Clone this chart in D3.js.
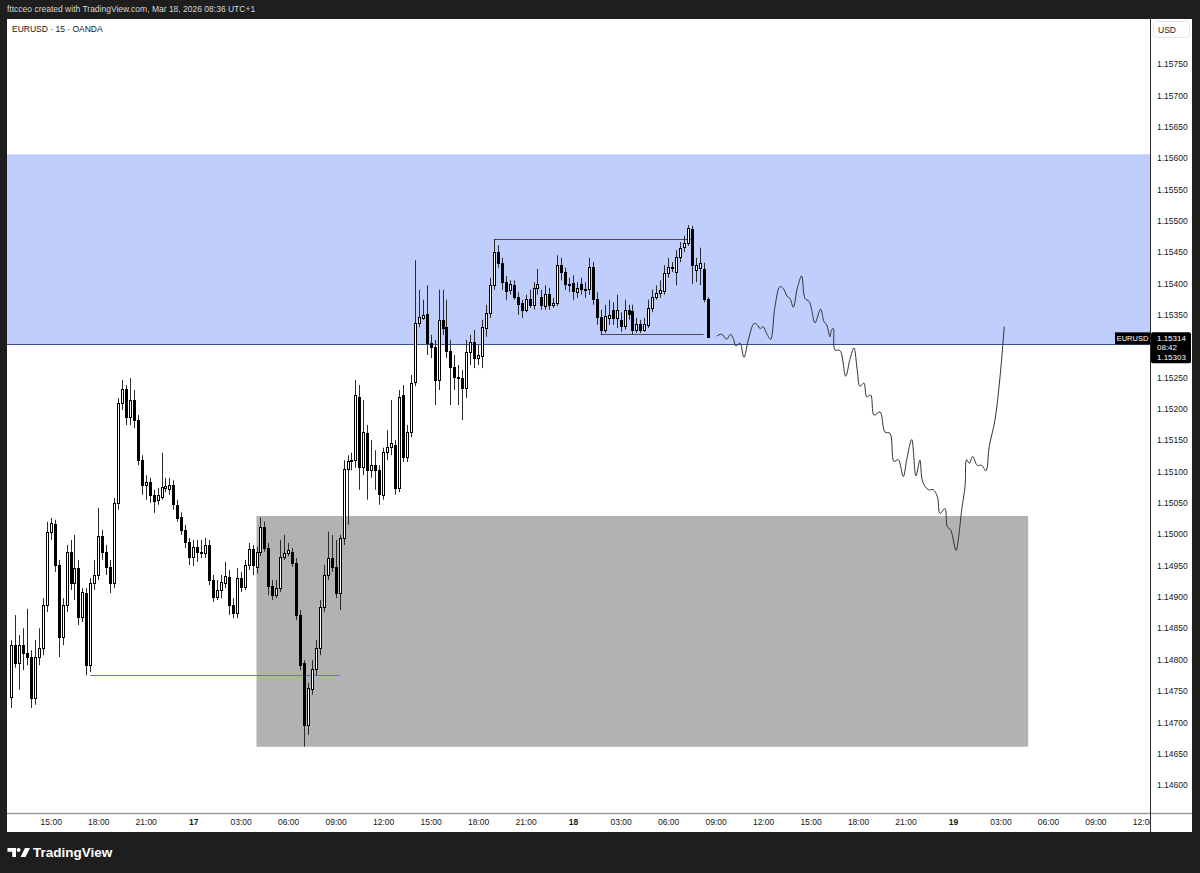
<!DOCTYPE html>
<html>
<head>
<meta charset="utf-8">
<script src="https://cdn.jsdelivr.net/npm/d3@7"></script>
<style>
  body { margin: 0; background: #1e1e1e; }
  svg { display: block; font-family: "Liberation Sans", Arial, sans-serif; }
</style>
</head>
<body>
<svg id="chart" width="1200" height="873"></svg>
<script>
// EURUSD 15m bars, first bar Mar 16 12:30 (hours counted from Mar 16 00:00)
var firstBar = 12.5, barHours = 0.25;

var openP = [
  1.14740,1.14823,1.14795,1.14823,1.14811,1.14804,1.14739,1.14804,1.14819,1.14887,
  1.15004,1.15016,1.14951,1.14836,1.14887,1.14972,1.14922,1.14946,1.14868,1.14906,
  1.14791,1.14922,1.14935,1.14997,1.14972,1.14948,1.14922,1.15050,1.15209,1.15232,
  1.15187,1.15214,1.15182,1.15118,1.15078,1.15083,1.15063,1.15055,1.15059,1.15074,
  1.15071,1.15078,1.15047,1.15027,1.15007,1.14988,1.14964,1.14980,1.14972,1.14970,
  1.14983,1.14927,1.14900,1.14911,1.14922,1.14932,1.14887,1.14874,1.14930,1.14916,
  1.14951,1.14976,1.14948,1.14972,1.15012,1.14978,1.14917,1.14903,1.14914,1.14964,
  1.14970,1.14972,1.14954,1.14871,1.14795,1.14696,1.14753,1.14785,1.14819,1.14884,
  1.14935,1.14962,1.14948,1.14906,1.14994,1.15104,1.15117,1.15118,1.15219,1.15107,
  1.15161,1.15102,1.15110,1.15102,1.15063,1.15131,1.15139,1.15142,1.15074,1.15222,
  1.15123,1.15163,1.15243,1.15337,1.15346,1.15351,1.15305,1.15299,1.15246,1.15342,
  1.15330,1.15292,1.15267,1.15251,1.15249,1.15233,1.15291,1.15307,1.15281,1.15283,
  1.15329,1.15353,1.15397,1.15450,1.15433,1.15402,1.15390,1.15397,1.15378,1.15369,
  1.15358,1.15375,1.15366,1.15393,1.15378,1.15364,1.15383,1.15366,1.15369,1.15429,
  1.15418,1.15399,1.15401,1.15386,1.15399,1.15391,1.15391,1.15426,1.15375,1.15346,
  1.15326,1.15346,1.15358,1.15345,1.15342,1.15332,1.15358,1.15356,1.15326,1.15335,
  1.15326,1.15334,1.15361,1.15378,1.15385,1.15388,1.15417,1.15425,1.15418,1.15442,
  1.15457,1.15464,1.15487,1.15421,1.15425,1.15423,1.15375];

var highP = [
  1.14831,1.14871,1.14839,1.14850,1.14881,1.14815,1.14831,1.14850,1.14898,1.15020,
  1.15026,1.15023,1.14959,1.14898,1.14983,1.14991,1.14999,1.14959,1.14914,1.14914,
  1.14930,1.14959,1.15042,1.15007,1.14983,1.14959,1.15058,1.15217,1.15246,1.15238,
  1.15249,1.15230,1.15190,1.15126,1.15094,1.15090,1.15071,1.15074,1.15130,1.15090,
  1.15090,1.15086,1.15055,1.15035,1.15015,1.14994,1.14991,1.14991,1.14991,1.14994,
  1.14991,1.14935,1.14927,1.14935,1.14956,1.14943,1.14898,1.14946,1.14940,1.14959,
  1.14986,1.14983,1.14980,1.15027,1.15020,1.14986,1.14927,1.14927,1.14991,1.14999,
  1.14986,1.14978,1.14962,1.14879,1.14799,1.14763,1.14799,1.14831,1.14895,1.14951,
  1.15004,1.14999,1.14991,1.14999,1.15118,1.15126,1.15130,1.15246,1.15238,1.15214,
  1.15174,1.15150,1.15134,1.15110,1.15138,1.15166,1.15214,1.15150,1.15230,1.15238,
  1.15174,1.15254,1.15437,1.15390,1.15374,1.15397,1.15318,1.15310,1.15390,1.15390,
  1.15374,1.15310,1.15286,1.15270,1.15262,1.15310,1.15318,1.15326,1.15302,1.15342,
  1.15366,1.15409,1.15471,1.15461,1.15441,1.15412,1.15405,1.15405,1.15386,1.15374,
  1.15382,1.15390,1.15402,1.15423,1.15390,1.15397,1.15393,1.15377,1.15445,1.15441,
  1.15425,1.15409,1.15413,1.15402,1.15409,1.15402,1.15441,1.15434,1.15386,1.15358,
  1.15366,1.15374,1.15370,1.15382,1.15354,1.15374,1.15366,1.15366,1.15345,1.15342,
  1.15345,1.15374,1.15390,1.15397,1.15405,1.15429,1.15441,1.15434,1.15453,1.15466,
  1.15476,1.15493,1.15492,1.15441,1.15457,1.15433,1.15378];

var lowP = [
  1.14723,1.14787,1.14752,1.14783,1.14791,1.14723,1.14728,1.14791,1.14807,1.14876,
  1.14991,1.14940,1.14804,1.14823,1.14876,1.14911,1.14895,1.14855,1.14860,1.14775,
  1.14780,1.14911,1.14927,1.14959,1.14935,1.14906,1.14914,1.15039,1.15198,1.15174,
  1.15174,1.15169,1.15110,1.15063,1.15055,1.15050,1.15034,1.15047,1.15055,1.15067,
  1.15063,1.15039,1.15020,1.14999,1.14978,1.14951,1.14949,1.14956,1.14962,1.14962,
  1.14919,1.14892,1.14895,1.14898,1.14914,1.14871,1.14866,1.14866,1.14908,1.14911,
  1.14943,1.14935,1.14937,1.14965,1.14972,1.14903,1.14895,1.14898,1.14908,1.14959,
  1.14965,1.14948,1.14863,1.14783,1.14661,1.14680,1.14744,1.14775,1.14807,1.14876,
  1.14927,1.14940,1.14898,1.14879,1.14983,1.15015,1.15102,1.15106,1.15071,1.15094,
  1.15055,1.15090,1.15071,1.15047,1.15055,1.15118,1.15126,1.15063,1.15067,1.15115,
  1.15115,1.15155,1.15236,1.15330,1.15342,1.15286,1.15281,1.15206,1.15230,1.15318,
  1.15281,1.15206,1.15230,1.15206,1.15182,1.15217,1.15270,1.15265,1.15270,1.15265,
  1.15315,1.15345,1.15390,1.15425,1.15390,1.15374,1.15382,1.15374,1.15350,1.15345,
  1.15354,1.15361,1.15358,1.15382,1.15358,1.15358,1.15358,1.15361,1.15364,1.15405,
  1.15390,1.15386,1.15374,1.15377,1.15382,1.15377,1.15382,1.15366,1.15334,1.15318,
  1.15321,1.15334,1.15334,1.15329,1.15323,1.15326,1.15342,1.15319,1.15321,1.15321,
  1.15323,1.15329,1.15354,1.15374,1.15377,1.15382,1.15409,1.15418,1.15397,1.15434,
  1.15450,1.15460,1.15399,1.15402,1.15397,1.15370,1.15313];

var closeP = [
  1.14823,1.14795,1.14823,1.14811,1.14804,1.14739,1.14804,1.14819,1.14887,1.15004,
  1.15018,1.14951,1.14836,1.14887,1.14972,1.14922,1.14946,1.14868,1.14908,1.14791,
  1.14922,1.14935,1.14997,1.14972,1.14948,1.14922,1.15050,1.15209,1.15232,1.15187,
  1.15214,1.15182,1.15118,1.15078,1.15083,1.15063,1.15053,1.15063,1.15075,1.15077,
  1.15078,1.15047,1.15027,1.15007,1.14988,1.14964,1.14980,1.14972,1.14970,1.14983,
  1.14927,1.14900,1.14911,1.14924,1.14933,1.14887,1.14874,1.14930,1.14916,1.14951,
  1.14976,1.14951,1.14972,1.15012,1.14978,1.14917,1.14903,1.14914,1.14964,1.14970,
  1.14975,1.14954,1.14871,1.14791,1.14696,1.14755,1.14785,1.14819,1.14884,1.14935,
  1.14962,1.14948,1.14906,1.14994,1.15104,1.15117,1.15118,1.15222,1.15107,1.15163,
  1.15102,1.15110,1.15102,1.15063,1.15131,1.15139,1.15145,1.15074,1.15219,1.15123,
  1.15163,1.15241,1.15337,1.15346,1.15350,1.15305,1.15299,1.15246,1.15342,1.15330,
  1.15292,1.15267,1.15251,1.15249,1.15233,1.15291,1.15307,1.15281,1.15286,1.15330,
  1.15353,1.15397,1.15450,1.15433,1.15402,1.15388,1.15399,1.15378,1.15367,1.15358,
  1.15375,1.15366,1.15393,1.15399,1.15366,1.15383,1.15366,1.15369,1.15429,1.15418,
  1.15399,1.15397,1.15388,1.15393,1.15391,1.15390,1.15426,1.15375,1.15346,1.15326,
  1.15348,1.15350,1.15345,1.15358,1.15332,1.15358,1.15351,1.15326,1.15335,1.15326,
  1.15335,1.15361,1.15378,1.15385,1.15390,1.15417,1.15426,1.15426,1.15442,1.15457,
  1.15464,1.15488,1.15429,1.15429,1.15433,1.15375,1.15314];

// hand drawn projection (hours, price)
var projT = [57.07,57.39,57.70,57.95,58.12,58.29,58.54,58.79,59.07,59.43,59.64,59.81,60.01,60.23,60.48,
  60.75,61.07,61.28,61.53,61.70,61.91,62.16,62.44,62.65,62.92,63.07,63.28,63.64,63.85,64.02,64.23,64.33,
  64.44,64.54,64.86,65.22,65.49,65.74,65.95,66.12,66.37,66.55,66.80,67.01,67.39,67.70,68.02,68.27,68.54,
  68.86,69.07,69.39,69.66,69.91,70.08,70.44,70.75,71.01,71.18,71.49,71.64,71.85,72.19,72.33,72.55,72.76,
  72.86,73.03,73.24,73.53,73.81,74.08,74.29,74.65,74.97,75.24];
var projP = [1.15316,1.15319,1.15311,1.15319,1.15312,1.15300,1.15305,1.15282,1.15310,1.15336,1.15334,1.15328,
  1.15331,1.15320,1.15311,1.15363,1.15395,1.15392,1.15379,1.15376,1.15362,1.15392,1.15412,1.15376,1.15371,
  1.15358,1.15337,1.15359,1.15339,1.15334,1.15315,1.15326,1.15328,1.15294,1.15293,1.15252,1.15279,1.15297,
  1.15262,1.15236,1.15241,1.15219,1.15222,1.15190,1.15195,1.15163,1.15161,1.15116,1.15119,1.15092,1.15118,
  1.15151,1.15093,1.15118,1.15084,1.15071,1.15071,1.15060,1.15033,1.15041,1.15012,1.15007,1.14974,1.14991,
  1.15039,1.15076,1.15119,1.15113,1.15124,1.15110,1.15110,1.15101,1.15140,1.15182,1.15251,1.15331];

// drawings
var blueZone = [1.15303, 1.15606];             // price bottom, top (full width)
var grayZone = [28, 76.75, 1.14661, 1.15029];  // t0, t1, price bottom, top
var lowLine = [17.5, 33.25, 1.14775];
var rangeTop = [43, 55.6, 1.15471];
var rangeBottom = [49.75, 56.25, 1.15319];
var hLinePrice = 1.15303, lastPrice = 1.15314;

// 1.15300 sits under the last-price tag, so it is not shown
var priceTicks = [1.1460,1.1465,1.1470,1.1475,1.1480,1.1485,1.1490,1.1495,1.1500,1.1505,1.1510,1.1515,
  1.1520,1.1525,1.1535,1.1540,1.1545,1.1550,1.1555,1.1560,1.1565,1.1570,1.1575];
var timeTicks = [15,18,21,24,27,30,33,36,39,42,45,48,51,54,57,60,63,66,69,72,75,78,81,84];
var timeLabels = ["15:00","18:00","21:00","17","03:00","06:00","09:00","12:00","15:00","18:00","21:00","18",
  "03:00","06:00","09:00","12:00","15:00","18:00","21:00","19","03:00","06:00","09:00","12:00"];

var bars = openP.map(function(o, i){
  return {t: firstBar + i*barHours, o: o, h: highP[i], l: lowP[i], c: closeP[i]};
});

var L = 7, R = 1150, T = 19, B = 813;
var svg = d3.select('#chart');
var x = d3.scaleLinear().domain([24, 72]).range([193.2, 953.0]);
var y = d3.scaleLinear().domain([1.146, 1.1575]).range([785, 64]);

var defs = svg.append('defs');
defs.append('clipPath').attr('id','plotClip')
  .append('rect').attr('x',L).attr('y',T).attr('width',R-L).attr('height',B-T);
defs.append('clipPath').attr('id','timeClip')
  .append('rect').attr('x',L).attr('y',B).attr('width',R-L).attr('height',20);

// pane background
svg.append('rect').attr('x',L).attr('y',T).attr('width',1192-L).attr('height',832-T).attr('fill','#fff');

var plot = svg.append('g').attr('clip-path','url(#plotClip)');

// zones
plot.append('rect')
  .attr('x',L).attr('width',R-L)
  .attr('y',y(blueZone[1])).attr('height',y(blueZone[0])-y(blueZone[1]))
  .attr('fill','#bfcefc');
plot.append('rect')
  .attr('x',x(grayZone[0])).attr('width',x(grayZone[1])-x(grayZone[0]))
  .attr('y',y(grayZone[3])).attr('height',y(grayZone[2])-y(grayZone[3]))
  .attr('fill','#b2b2b2');

// horizontal line
plot.append('line')
  .attr('x1',L).attr('x2',R)
  .attr('y1',Math.round(y(hLinePrice))+0.5).attr('y2',Math.round(y(hLinePrice))+0.5)
  .attr('stroke','#3a4f86').attr('stroke-width',1);

function segment(arr, color){
  var yy = Math.round(y(arr[2]))+0.5;
  plot.append('line')
    .attr('x1',x(arr[0])).attr('x2',x(arr[1])).attr('y1',yy).attr('y2',yy)
    .attr('stroke',color).attr('stroke-width',1);
}
segment(lowLine,'#5a78c8');
segment(rangeTop,'#4a4a4a');
segment(rangeBottom,'#4a4a4a');

// candles
var candle = plot.append('g').selectAll('g').data(bars).enter().append('g');
candle.append('line')
  .attr('x1',function(d){return Math.round(x(d.t))+0.5;})
  .attr('x2',function(d){return Math.round(x(d.t))+0.5;})
  .attr('y1',function(d){return y(d.h);})
  .attr('y2',function(d){return y(d.l);})
  .attr('stroke','#2b2b2b').attr('stroke-width',1);
candle.append('rect')
  .attr('x',function(d){return Math.round(x(d.t))-0.5;})
  .attr('width',2)
  .attr('y',function(d){return Math.round(y(Math.max(d.o,d.c)))+0.5;})
  .attr('height',function(d){return Math.max(1, Math.round(Math.abs(y(d.o)-y(d.c))));})
  .attr('fill',function(d){return d.c>=d.o ? '#fff' : '#000';})
  .attr('stroke','#000').attr('stroke-width',1);

// projection
var proj = projT.map(function(t,i){return {t:t, p:projP[i]};});
plot.append('path')
  .datum(proj)
  .attr('d', d3.line().x(function(d){return x(d.t);}).y(function(d){return y(d.p);}).curve(d3.curveCatmullRom.alpha(0.5)))
  .attr('fill','none').attr('stroke','#333').attr('stroke-width',1);

// axes frame
svg.append('line').attr('x1',L).attr('x2',1192).attr('y1',B+0.5).attr('y2',B+0.5)
  .attr('stroke','#9a9a9a').attr('stroke-width',1.5);
svg.append('line').attr('x1',R+0.5).attr('x2',R+0.5).attr('y1',T).attr('y2',832)
  .attr('stroke','#2a2a2a').attr('stroke-width',1);

// price axis
var yAxis = d3.axisRight(y).tickValues(priceTicks).tickSize(0).tickPadding(0)
  .tickFormat(d3.format('.5f'));
var ya = svg.append('g').attr('transform','translate(1157,0)').call(yAxis);
ya.select('.domain').remove();
ya.selectAll('text').attr('font-size','8.5px').attr('fill','#131722')
  .attr('font-family','"Liberation Sans", Arial, sans-serif');

// time axis
var xAxis = d3.axisBottom(x).tickValues(timeTicks).tickSize(0).tickPadding(0)
  .tickFormat(function(d,i){return timeLabels[i];});
var xa = svg.append('g').attr('clip-path','url(#timeClip)')
  .append('g').attr('transform','translate(0,'+(B+6)+')').call(xAxis);
xa.select('.domain').remove();
xa.selectAll('text').attr('font-size','8.5px').attr('fill','#131722')
  .attr('font-family','"Liberation Sans", Arial, sans-serif')
  .attr('font-weight',function(d,i){return timeLabels[i].indexOf(':')<0 ? 'bold' : 'normal';});

// USD badge
svg.append('rect').attr('x',1153.5).attr('y',21.5).attr('width',36).attr('height',16).attr('rx',3)
  .attr('fill','#fff').attr('stroke','#e6e6e6');
svg.append('text').attr('x',1167).attr('y',32.5).attr('text-anchor','middle')
  .attr('font-size','8.5px').attr('fill','#131722').text('USD');

// last price tags
var yl = y(lastPrice);
svg.append('rect').attr('x',1115).attr('y',yl-5).attr('width',35).attr('height',12).attr('fill','#000');
svg.append('text').attr('x',1132.5).attr('y',yl+4).attr('text-anchor','middle')
  .attr('font-size','7.5px').attr('fill','#fff').text('EURUSD');
svg.append('rect').attr('x',1151).attr('y',yl-5).attr('width',40).attr('height',31).attr('rx',2).attr('fill','#000');
svg.append('text').attr('x',1157).attr('y',yl+3.5).attr('font-size','8px').attr('fill','#fff').text(d3.format('.5f')(lastPrice));
svg.append('text').attr('x',1157).attr('y',yl+12.6).attr('font-size','8px').attr('fill','#fff').text('08:42');
svg.append('text').attr('x',1157).attr('y',yl+23).attr('font-size','8px').attr('fill','#fff').text(d3.format('.5f')(hLinePrice));

// header texts
svg.append('text').attr('x',7).attr('y',12).attr('font-size','8.5px').attr('fill','#d6d6d6')
  .text('fttcceo created with TradingView.com, Mar 18, 2026 08:36 UTC+1');
svg.append('text').attr('x',12).attr('y',32).attr('font-size','8.5px').attr('fill','#131722')
  .text('EURUSD · 15 · OANDA');

// footer logo
var logo = svg.append('g').attr('fill','#fff');
logo.append('path').attr('d','M7.5 848 h8.5 v9 h-3.8 v-5.3 h-4.7 z');
logo.append('circle').attr('cx',18.6).attr('cy',850).attr('r',2);
logo.append('path').attr('d','M20.5 857 l4.5 -9 h5 l-4.5 9 z');
svg.append('text').attr('x',33).attr('y',857).attr('font-size','13.5px').attr('font-weight','600')
  .attr('fill','#fff').text('TradingView');
</script>
</body>
</html>
